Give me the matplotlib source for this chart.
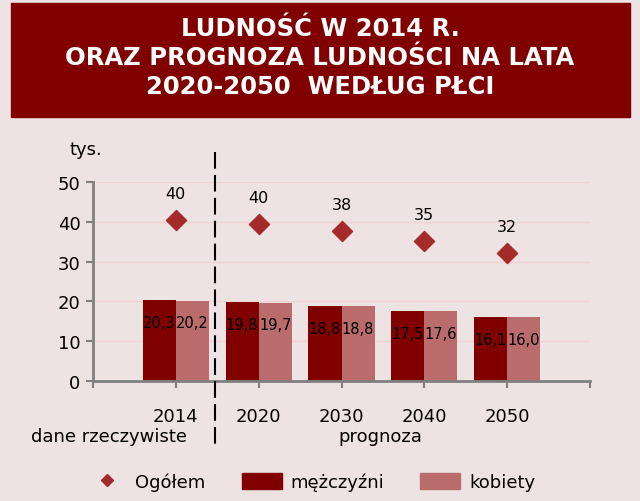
import numpy as np
import matplotlib.pyplot as plt
from matplotlib.patches import Rectangle
from matplotlib.lines import Line2D

plt.rcParams['font.family'] = ['DejaVu Sans']

# data
years = ["2014", "2020", "2030", "2040", "2050"]
men = [20.3, 19.8, 18.8, 17.5, 16.1]
women = [20.2, 19.7, 18.8, 17.6, 16.0]
total = [40.5, 39.5, 37.6, 35.1, 32.1]
total_labels = ["40", "40", "38", "35", "32"]
men_labels = ["20,3", "19,8", "18,8", "17,5", "16,1"]
women_labels = ["20,2", "19,7", "18,8", "17,6", "16,0"]

bg = '#EDE3E2'
c_men = '#800000'
c_women = '#BA6C6C'
c_total = '#A52A2A'

fig = plt.figure(figsize=(6.4, 5.02), dpi=100, facecolor=bg)

# title box
fig.patches.append(Rectangle((11/640, 1 - 118/502), 619/640, 114/502,
                             transform=fig.transFigure, color='#800000', zorder=0))
title = "LUDNOŚĆ W 2014 R.\nORAZ PROGNOZA LUDNOŚCI NA LATA\n2020-2050  WEDŁUG PŁCI"
fig.text(0.5, 1 - 58/502, title, ha='center', va='center', color='white',
         fontsize=17.5, fontweight='bold', linespacing=1.25)

ax = fig.add_axes([93/640, 120/502, 497/640, 199/502])
ax.set_facecolor(bg)

x = np.arange(1, len(years) + 1)
w = 0.4
ax.bar(x - w/2, men, w, color=c_men, zorder=2)
ax.bar(x + w/2, women, w, color=c_women, zorder=2)
ax.scatter(x, total, marker='D', s=105, color=c_total, zorder=3)

for xi, v, lab in zip(x - w/2, men, men_labels):
    ax.annotate(lab, (xi, v), xytext=(0, -16), textcoords='offset points',
                ha='center', va='center', fontsize=10.5, color='black', zorder=4)
for xi, v, lab in zip(x + w/2, women, women_labels):
    ax.annotate(lab, (xi, v), xytext=(0, -16), textcoords='offset points',
                ha='center', va='center', fontsize=10.5, color='black', zorder=4)
for xi, v, lab in zip(x, total, total_labels):
    ax.annotate(lab, (xi, v), xytext=(0, 19), textcoords='offset points',
                ha='center', va='center', fontsize=11.5, color='black')

ax.set_xlim(0, 6)
ax.set_ylim(0, 50)
ax.set_yticks(range(0, 51, 10))
ax.tick_params(axis='y', labelsize=13, length=5, width=1.5, color='#808080', pad=4)
ax.set_xticks(list(x) + [0, 6])
ax.set_xticklabels(years + ["", ""])
ax.tick_params(axis='x', labelsize=13, length=5, width=1.5, color='#808080', pad=14)
ax.grid(axis='y', color='#F2D2D2', lw=1, zorder=0)
ax.set_axisbelow(True)
for s in ['top', 'right']:
    ax.spines[s].set_visible(False)
for s in ['left', 'bottom']:
    ax.spines[s].set_color('#808080')
    ax.spines[s].set_linewidth(2)

# divider between real data and forecast
fig.add_artist(Line2D([215/640, 215/640], [1 - 153/502, 1 - 446/502],
                      transform=fig.transFigure, color='black', lw=1.5,
                      dashes=(8, 3), zorder=5))

fig.text(70/640, 1 - 150/502, "tys.", fontsize=13, ha='left', va='center')
fig.text(109/640, 1 - 437/502, "dane rzeczywiste", fontsize=13, ha='center', va='center')
fig.text(380/640, 1 - 437/502, "prognoza", fontsize=13, ha='center', va='center')

# legend
handles = [
    Line2D([], [], marker='D', color=c_total, ls='none', markersize=6),
    Rectangle((0, 0), 1, 1, color=c_men),
    Rectangle((0, 0), 1, 1, color=c_women),
]
fig.legend(handles, ["Ogółem", "mężczyźni", "kobiety"], loc='center',
           bbox_to_anchor=(311/640, 1 - 483/502), ncol=3, frameon=False,
           fontsize=13, handlelength=2.2, handleheight=1.0, handletextpad=0.5,
           columnspacing=2.0)

fig.savefig("out.png", dpi=100, facecolor=bg)
